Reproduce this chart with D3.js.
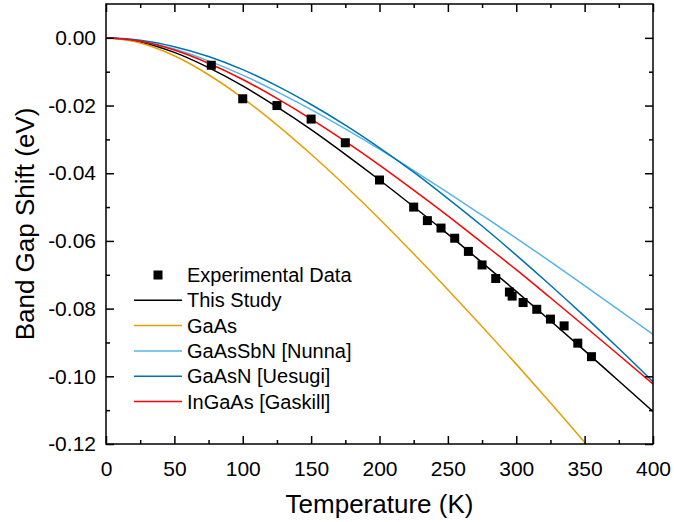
<!DOCTYPE html>
<html>
<head>
<meta charset="utf-8">
<script src="https://cdn.jsdelivr.net/npm/d3@7/dist/d3.min.js"></script>
<style>
  html, body { margin: 0; padding: 0; background: #fff; }
  svg { display: block; font-family: "Liberation Sans", Arial, sans-serif; }
</style>
</head>
<body>
<svg id="chart" width="674" height="522"></svg>
<script>
// ---- data ----
const temps = [0, 25, 50, 75, 100, 125, 150, 175, 200, 225, 250, 275, 300, 325, 350, 375, 400];
const thisStudy = [0, -0.0012, -0.0043, -0.0088, -0.0142, -0.0204, -0.0271, -0.0344, -0.0420, -0.0499, -0.0580, -0.0664, -0.0749, -0.0836, -0.0924, -0.1014, -0.1104];
const gaAs      = [0, -0.0015, -0.0053, -0.0109, -0.0178, -0.0257, -0.0344, -0.0437, -0.0535, -0.0638, -0.0744, -0.0853, -0.0964, -0.1078, -0.1195, -0.1316, -0.1438];
const gaAsSbN   = [0, -0.0009, -0.0033, -0.0068, -0.0110, -0.0159, -0.0212, -0.0269, -0.0329, -0.0392, -0.0457, -0.0524, -0.0592, -0.0661, -0.0732, -0.0804, -0.0876];
const gaAsN     = [0, -0.0007, -0.0026, -0.0055, -0.0094, -0.0142, -0.0197, -0.0258, -0.0325, -0.0397, -0.0475, -0.0556, -0.0642, -0.0731, -0.0823, -0.0918, -0.1016];
const inGaAs    = [0, -0.0010, -0.0036, -0.0075, -0.0123, -0.0179, -0.0240, -0.0306, -0.0376, -0.0450, -0.0526, -0.0605, -0.0685, -0.0768, -0.0852, -0.0937, -0.1023];

const expT = [77, 100, 125, 150, 175, 200, 225, 235, 245, 255, 265, 275, 285, 295, 297, 305, 315, 325, 335, 345, 355];
const expE = [-0.0081, -0.0180, -0.0200, -0.0240, -0.0310, -0.0420, -0.0500, -0.0540, -0.0562, -0.0592, -0.0631, -0.0671, -0.0711, -0.0751, -0.0763, -0.0782, -0.0802, -0.0831, -0.0851, -0.0902, -0.0942];

const xTicks = [0, 50, 100, 150, 200, 250, 300, 350, 400];
const yTicks = [0, -0.02, -0.04, -0.06, -0.08, -0.10, -0.12];

const seriesNames  = ["This Study", "GaAs", "GaAsSbN [Nunna]", "GaAsN [Uesugi]", "InGaAs [Gaskill]"];
const seriesValues = [thisStudy, gaAs, gaAsSbN, gaAsN, inGaAs];
const seriesColors = ["#000000", "#E69F00", "#56B4E9", "#0072B2", "#FF0000"];

// ---- layout ----
const L = 106, R = 653, T = 4, B = 444;
const svg = d3.select("#chart");
const x = d3.scaleLinear().domain([0, 400]).range([L, R]);
const y = d3.scaleLinear().domain([-0.12, 0.01]).range([B, T]);

svg.append("defs").append("clipPath").attr("id", "clip")
  .append("rect").attr("x", L).attr("y", T).attr("width", R - L).attr("height", B - T);

// curves
const line = d3.line().x(d => x(d[0])).y(d => y(d[1])).curve(d3.curveMonotoneX);
const g = svg.append("g").attr("clip-path", "url(#clip)");
seriesValues.forEach((vals, i) => {
  g.append("path")
    .datum(temps.map((t, j) => [t, vals[j]]))
    .attr("fill", "none")
    .attr("stroke", seriesColors[i])
    .attr("stroke-width", 1.5)
    .attr("d", line);
});

// experimental points
const sq = 9;
svg.append("g").selectAll("rect").data(expT.map((t, i) => [t, expE[i]])).join("rect")
  .attr("x", d => x(d[0]) - sq / 2)
  .attr("y", d => y(d[1]) - sq / 2)
  .attr("width", sq).attr("height", sq)
  .attr("fill", "#000");

// axes (ticks inside)
const fmtY = v => d3.format(".2f")(v).replace("\u2212", "-");
const xMinor = d3.range(25, 400, 50);
const yMinor = [-0.01, -0.03, -0.05, -0.07, -0.09, -0.11];

function styleAxis(sel) {
  sel.selectAll(".domain").remove();
  sel.selectAll("line").attr("stroke", "#000").attr("stroke-width", 1.5);
  sel.selectAll("text").attr("fill", "#000").style("font-size", "21px");
}

const xb = svg.append("g").attr("transform", `translate(0,${B})`)
  .call(d3.axisBottom(x).tickValues(xTicks).tickSizeInner(-8).tickSizeOuter(0).tickPadding(17).tickFormat(d3.format("d")));
styleAxis(xb);
const xbm = svg.append("g").attr("transform", `translate(0,${B})`)
  .call(d3.axisBottom(x).tickValues(xMinor).tickSize(-4).tickFormat(""));
styleAxis(xbm);

const xt = svg.append("g").attr("transform", `translate(0,${T})`)
  .call(d3.axisTop(x).tickValues(xTicks).tickSize(-8).tickFormat(""));
styleAxis(xt);
const xtm = svg.append("g").attr("transform", `translate(0,${T})`)
  .call(d3.axisTop(x).tickValues(xMinor).tickSize(-4).tickFormat(""));
styleAxis(xtm);

const yl = svg.append("g").attr("transform", `translate(${L},0)`)
  .call(d3.axisLeft(y).tickValues(yTicks).tickSizeInner(-8).tickSizeOuter(0).tickPadding(10).tickFormat(fmtY));
styleAxis(yl);
const ylm = svg.append("g").attr("transform", `translate(${L},0)`)
  .call(d3.axisLeft(y).tickValues(yMinor).tickSize(-4).tickFormat(""));
styleAxis(ylm);

const yr = svg.append("g").attr("transform", `translate(${R},0)`)
  .call(d3.axisRight(y).tickValues(yTicks).tickSize(-8).tickFormat(""));
styleAxis(yr);
const yrm = svg.append("g").attr("transform", `translate(${R},0)`)
  .call(d3.axisRight(y).tickValues(yMinor).tickSize(-4).tickFormat(""));
styleAxis(yrm);

// frame
svg.append("rect").attr("x", L).attr("y", T).attr("width", R - L).attr("height", B - T)
  .attr("fill", "none").attr("stroke", "#000").attr("stroke-width", 1.5);

// axis titles
svg.append("text").attr("x", (L + R) / 2).attr("y", 513).attr("text-anchor", "middle")
  .style("font-size", "26px").attr("fill", "#000").text("Temperature (K)");
svg.append("text").attr("transform", `translate(34,${(T + B) / 2}) rotate(-90)`).attr("text-anchor", "middle")
  .style("font-size", "26px").attr("fill", "#000").text("Band Gap Shift (eV)");

// legend
const legX0 = 134, legX1 = 182, legText = 187, legY0 = 275, legDy = 25.3;
const leg = svg.append("g");
leg.append("rect").attr("x", (legX0 + legX1) / 2 - sq / 2).attr("y", legY0 - sq / 2)
  .attr("width", sq).attr("height", sq).attr("fill", "#000");
leg.append("text").attr("x", legText).attr("y", legY0).attr("dy", "0.35em")
  .style("font-size", "20px").attr("fill", "#000").text("Experimental Data");
seriesNames.forEach((name, i) => {
  const yy = legY0 + legDy * (i + 1);
  leg.append("line").attr("x1", legX0).attr("x2", legX1).attr("y1", yy).attr("y2", yy)
    .attr("stroke", seriesColors[i]).attr("stroke-width", 1.5);
  leg.append("text").attr("x", legText).attr("y", yy).attr("dy", "0.35em")
    .style("font-size", "20px").attr("fill", "#000").text(name);
});
</script>
</body>
</html>
